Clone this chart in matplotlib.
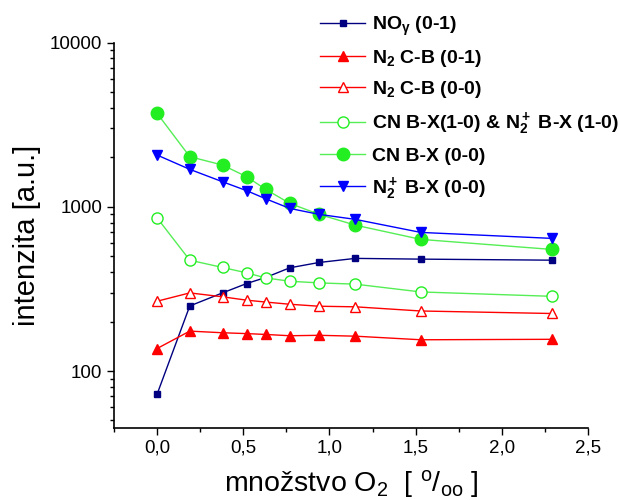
import matplotlib

matplotlib.use("Agg")
import matplotlib.pyplot as plt
from matplotlib.ticker import FixedLocator, FuncFormatter, LogLocator, MultipleLocator, NullFormatter

# O2 amount [per mille]
o2 = [0.0, 0.19, 0.38, 0.52, 0.63, 0.77, 0.94, 1.15, 1.53, 2.29]

no_gamma = [72, 249, 299, 341, 371, 425, 458, 485, 480, 473]
n2_cb_01 = [137, 175, 171, 169, 167, 164, 165, 163, 155, 156]
n2_cb_00 = [266, 299, 283, 270, 263, 255, 248, 246, 232, 224]
cn_10 = [857, 473, 427, 396, 369, 352, 344, 338, 303, 285]
cn_00 = [3710, 2018, 1795, 1524, 1277, 1049, 899, 773, 633, 550]
n2p_00 = [2066, 1690, 1420, 1253, 1119, 977, 899, 838, 698, 642]

NAVY, RED, GREEN, BLUE = "#000080", "#ff0000", "#22ee22", "#0000ff"
LINE_GREEN = "#55ee55"

plt.rcParams.update({
    "font.family": ["Liberation Sans", "DejaVu Sans"],
    "mathtext.fontset": "custom",
    "mathtext.rm": "Liberation Sans",
    "mathtext.it": "Liberation Sans:italic",
    "mathtext.bf": "Liberation Sans:bold",
    "mathtext.default": "regular",
    "axes.spines.top": False, "axes.spines.right": False,
    "xtick.direction": "out", "ytick.direction": "out",
})

fig = plt.figure(figsize=(6.19, 5.0), dpi=100)
ax = fig.add_axes([0.184, 0.144, 0.766, 0.771])

series = [
    (no_gamma, r"NO$_{\gamma}$ (0-1)", NAVY, NAVY, "s", NAVY, 5),
    (n2_cb_01, r"N$_2$ C-B (0-1)", RED, RED, "^", RED, 6.5),
    (n2_cb_00, r"N$_2$ C-B (0-0)", RED, "white", "^", RED, 6.5),
    (cn_10, r"CN B-X(1-0) & N$_2^+$ B-X (1-0)", LINE_GREEN, "white", "o", GREEN, 8),
    (cn_00, "CN B-X (0-0)", LINE_GREEN, GREEN, "o", GREEN, 9),
    (n2p_00, r"N$_2^+$ B-X (0-0)", BLUE, BLUE, "v", BLUE, 6.5),
]
for y, lab, lc, fc, mk, ec, ms in series:
    ax.plot(o2, y, color=lc, lw=1.0, marker=mk, ms=ms, mfc=fc, mec=ec,
            mew=1.0, label=lab)

ax.set_yscale("log")
ax.set_xlim(-0.25, 2.5)
ax.set_ylim(45, 10000)
ax.xaxis.set_major_locator(MultipleLocator(0.5))
ax.xaxis.set_minor_locator(MultipleLocator(0.25))
ax.xaxis.set_major_formatter(FuncFormatter(lambda v, p: f"{v:.1f}".replace(".", ",")))
ax.yaxis.set_major_locator(FixedLocator([100, 1000, 10000]))
ax.yaxis.set_major_formatter(FuncFormatter(lambda v, p: f"{int(v)}"))
ax.yaxis.set_minor_locator(LogLocator(base=10, subs=range(2, 10)))
ax.yaxis.set_minor_formatter(NullFormatter())
ax.tick_params(which="major", length=5, width=1, labelsize=13.5, colors="black")
ax.tick_params(which="minor", length=3, width=1)
for s in ("left", "bottom"):
    ax.spines[s].set_linewidth(1.2)

ax.set_ylabel("intenzita [a.u.]", fontsize=21, labelpad=6)
ax.set_xlabel(r"množstvo O$_2$  [ $^o$/$_{oo}$ ]", fontsize=20.5, labelpad=8)

leg = ax.legend(loc="upper left", bbox_to_anchor=(0.505, 0.986),
                bbox_transform=fig.transFigure, frameon=False,
                prop={"weight": "bold", "size": 14}, handlelength=2.3,
                handletextpad=0.35, labelspacing=0.52, borderaxespad=0)

fig.savefig("out.png", dpi=100)
